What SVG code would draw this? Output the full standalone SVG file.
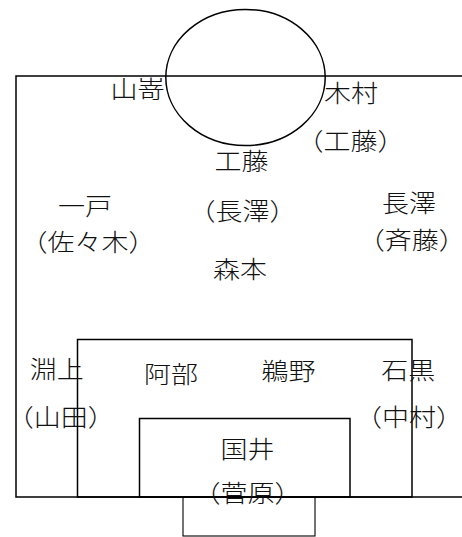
<svg xmlns="http://www.w3.org/2000/svg" width="462" height="537" viewBox="0 0 462 537">
<style>
.ln{fill:none;stroke:#000;stroke-width:1.5}
.gl{fill:none;stroke:#000;stroke-width:1.1}
text{font-family:"Noto Sans CJK JP","Noto Sans CJK SC",sans-serif;font-size:24px;font-weight:300;fill:#111;text-anchor:middle;font-feature-settings:"halt"}
</style>
<rect width="462" height="537" fill="#fff"/>
<g id="field">
<path class="ln" d="M462,76 H16 V497 H462"/>
<rect class="ln" x="77.5" y="339.5" width="334.5" height="157.5"/>
<rect class="ln" x="139.5" y="418.5" width="210.5" height="78.5"/>
<rect class="gl" x="183" y="497" width="132" height="39"/>
<ellipse class="ln" cx="245.5" cy="77.5" rx="79.7" ry="68"/>
</g>
<g id="connectors"></g>
<g id="yamazaki"><text x="137.5" y="98" textLength="54" lengthAdjust="spacingAndGlyphs">山嵜</text></g>
<g id="kimura"><text x="351" y="102" textLength="54" lengthAdjust="spacingAndGlyphs">木村</text><text x="350.5" y="150" textLength="81" lengthAdjust="spacingAndGlyphs">（工藤）</text></g>
<g id="kudo"><text x="241.5" y="170" textLength="54" lengthAdjust="spacingAndGlyphs">工藤</text><text x="242.5" y="220" textLength="81" lengthAdjust="spacingAndGlyphs">（長澤）</text></g>
<g id="ichinohe"><text x="85" y="215" textLength="54" lengthAdjust="spacingAndGlyphs">一戸</text><text x="88" y="251" textLength="108" lengthAdjust="spacingAndGlyphs">（佐々木）</text></g>
<g id="nagasawa"><text x="409" y="211.5" textLength="54" lengthAdjust="spacingAndGlyphs">長澤</text><text x="411.7" y="248.5" textLength="81" lengthAdjust="spacingAndGlyphs">（斉藤）</text></g>
<g id="morimoto"><text x="240" y="278" textLength="54" lengthAdjust="spacingAndGlyphs">森本</text></g>
<g id="fuchigami"><text x="56.7" y="378" textLength="54" lengthAdjust="spacingAndGlyphs">淵上</text><text x="60.7" y="426" textLength="81" lengthAdjust="spacingAndGlyphs">（山田）</text></g>
<g id="abe"><text x="171" y="383" textLength="54" lengthAdjust="spacingAndGlyphs">阿部</text></g>
<g id="unono"><text x="288.5" y="379.5" textLength="54" lengthAdjust="spacingAndGlyphs">鵜野</text></g>
<g id="ishiguro"><text x="408.3" y="378.5" textLength="54" lengthAdjust="spacingAndGlyphs">石黒</text><text x="409" y="426" textLength="81" lengthAdjust="spacingAndGlyphs">（中村）</text></g>
<g id="kunii"><text x="247.5" y="458" textLength="54" lengthAdjust="spacingAndGlyphs">国井</text><text x="247.5" y="502" textLength="81" lengthAdjust="spacingAndGlyphs">（菅原）</text></g>
</svg>
